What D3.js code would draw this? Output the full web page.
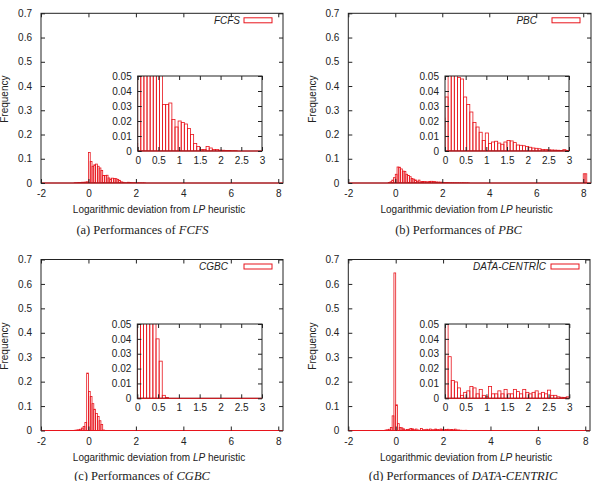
<!DOCTYPE html>
<html>
<head>
<meta charset="utf-8">
<style>
  body { margin: 0; background: #fff; }
  text { font-family: "Liberation Sans", Arial, sans-serif; font-size: 10px; fill: #222; }
  .caption { font-family: "Liberation Serif", "Times New Roman", serif; font-size: 12.5px; }
</style>
</head>
<body>
<svg id="chart" width="595" height="481"></svg>
<script src="https://cdn.jsdelivr.net/npm/d3@7/dist/d3.min.js"></script>
<script>
// histogram bins, all panels share the same bin width
const binWidth = 0.075;

// (a) FCFS
const fcfsStart = -0.6;
const fcfsFreq = [0.001, 0.001, 0.002, 0.002, 0.003, 0.003, 0.004, 0.005,
  0.126, 0.089, 0.069, 0.075, 0.078, 0.069, 0.062, 0.052, 0.031, 0.031, 0.032, 0.021,
  0.016, 0.020, 0.019, 0.018, 0.015, 0.011, 0.005, 0.003, 0.001, 0.001, 0.003, 0.002,
  0.001, 0.001, 0.0006, 0.0005, 0.0004, 0.0003, 0.0002, 0.0002];

// (b) PBC
const pbcStart = -0.3;
const pbcFreq = [0.002, 0.005, 0.012, 0.022,
  0.036, 0.066, 0.065, 0.058, 0.049, 0.048, 0.036, 0.031, 0.026, 0.019, 0.016, 0.0125,
  0.007, 0.012, 0.005, 0.006, 0.0065, 0.0053, 0.0045, 0.006, 0.007, 0.0067, 0.0056, 0.004,
  0.0038, 0.0035, 0.003, 0.0025, 0.002, 0.0018, 0.0015, 0.001, 0.001, 0.0008, 0.0007, 0.0006,
  0.0005, 0.0004, 0.0009, 0.0003, 0.0003, 0.0002];
const pbcOverflowStart = 8;
const pbcOverflow = [0.038, 0.038];

// (c) CGBC
const cgbcStart = -0.6;
const cgbcFreq = [0.001, 0.002, 0.003, 0.005, 0.010, 0.016, 0.033, 0.235,
  0.16, 0.139, 0.11, 0.087, 0.07, 0.057, 0.04, 0.025, 0.002, 0.0005];

// (d) DATA-CENTRIC
const dcStart = -0.45;
const dcFreq = [0.002, 0.003, 0.005, 0.012, 0.06, 0.645,
  0.105, 0.028, 0.012, 0.011, 0.007, 0.002, 0.004, 0.005, 0.008, 0.007,
  0.003, 0.006, 0.002, 0.001, 0.008, 0.003, 0.003, 0.005, 0.003, 0.006,
  0.003, 0.003, 0.006, 0.0045, 0.003, 0.006, 0.004, 0.003, 0.004, 0.005,
  0.003, 0.004, 0.003, 0.0055, 0.002, 0.002, 0.001, 0.0007, 0.0005, 0.001];

const xTicksMain = [-2, 0, 2, 4, 6, 8];
const yTicksMain = [0, 0.1, 0.2, 0.3, 0.4, 0.5, 0.6, 0.7];
const xTicksInset = [0, 0.5, 1, 1.5, 2, 2.5, 3];
const yTicksInset = [0, 0.01, 0.02, 0.03, 0.04, 0.05];

const barColor = "#e8141c";
const ink = "#222";
const svg = d3.select("#chart");

// where each panel sits on the page
const panels = [
  { name: "FCFS", letter: "a", start: fcfsStart, freq: fcfsFreq, xMax: 8.2,
    frame: { l: 41, r: 283, t: 13.3, b: 183 }, inset: { l: 137.7, r: 262, t: 76, b: 151 },
    legendGap: 4, captionX: 142.5, captionY: 234 },
  { name: "PBC", letter: "b", start: pbcStart, freq: pbcFreq, xMax: 8.33,
    extraStart: pbcOverflowStart, extra: pbcOverflow,
    frame: { l: 348.3, r: 591, t: 13.3, b: 183 }, inset: { l: 445, r: 569, t: 76, b: 151 },
    legendGap: 15, captionX: 458.5, captionY: 234 },
  { name: "CGBC", letter: "c", start: cgbcStart, freq: cgbcFreq, xMax: 8.2,
    frame: { l: 41, r: 283, t: 259.5, b: 430.5 }, inset: { l: 137.3, r: 262, t: 324, b: 398.3 },
    legendGap: 16, captionX: 142, captionY: 480 },
  { name: "DATA-CENTRIC", letter: "d", start: dcStart, freq: dcFreq, xMax: 8.2,
    frame: { l: 348.3, r: 590, t: 259.5, b: 430.5 }, inset: { l: 445, r: 569.3, t: 324, b: 398.3 },
    legendGap: 5, captionX: 463, captionY: 480 }
];

function bins(start, freq) {
  return freq.map((f, i) => ({ x0: start + i * binWidth, f: f })).filter(d => d.f > 0);
}

function drawBars(g, x, y, data, clipId) {
  g.append("g").attr("clip-path", `url(#${clipId})`)
    .selectAll("rect").data(data).join("rect")
    .attr("x", d => x(d.x0))
    .attr("width", d => x(d.x0 + binWidth) - x(d.x0))
    .attr("y", d => y(d.f))
    .attr("height", d => y(0) - y(d.f))
    .attr("fill", "none")
    .attr("stroke", barColor)
    .attr("stroke-width", 0.8);
}

function drawAxes(g, x, y, f, xTicks, yTicks, padX, padY) {
  const fmt = d => String(d);
  const clean = s => s.attr("font-size", null).attr("font-family", null).attr("color", ink)
    .call(a => a.select(".domain").remove());
  g.append("g").attr("transform", `translate(0,${f.b})`)
    .call(d3.axisBottom(x).tickValues(xTicks).tickFormat(fmt).tickSize(-4).tickPadding(padX)).call(clean);
  g.append("g").attr("transform", `translate(0,${f.t})`)
    .call(d3.axisTop(x).tickValues(xTicks).tickFormat("").tickSize(-4)).call(clean);
  g.append("g").attr("transform", `translate(${f.l},0)`)
    .call(d3.axisLeft(y).tickValues(yTicks).tickFormat(fmt).tickSize(-4).tickPadding(padY)).call(clean);
  g.append("g").attr("transform", `translate(${f.r},0)`)
    .call(d3.axisRight(y).tickValues(yTicks).tickFormat("").tickSize(-4)).call(clean);
}

panels.forEach((p, k) => {
  const g = svg.append("g");
  const f = p.frame, fi = p.inset;
  const x = d3.scaleLinear().domain([-2, p.xMax]).range([f.l, f.r]);
  const y = d3.scaleLinear().domain([0, 0.7]).range([f.b, f.t]);

  const defs = svg.append("defs");
  defs.append("clipPath").attr("id", "clipMain" + k).append("rect")
    .attr("x", f.l).attr("y", f.t).attr("width", f.r - f.l).attr("height", f.b - f.t);
  defs.append("clipPath").attr("id", "clipInset" + k).append("rect")
    .attr("x", fi.l).attr("y", fi.t).attr("width", fi.r - fi.l).attr("height", fi.b - fi.t);

  let data = bins(p.start, p.freq);
  if (p.extra) data = data.concat(bins(p.extraStart, p.extra));

  // main histogram
  drawBars(g, x, y, data, "clipMain" + k);
  g.append("rect").attr("x", f.l).attr("y", f.t).attr("width", f.r - f.l).attr("height", f.b - f.t)
    .attr("fill", "none").attr("stroke", ink).attr("stroke-width", 1);
  g.append("line").attr("x1", x(-2)).attr("x2", x(p.xMax)).attr("y1", y(0)).attr("y2", y(0))
    .attr("stroke", barColor).attr("stroke-width", 1);
  drawAxes(g, x, y, f, xTicksMain, yTicksMain, 7, 9);

  // zoomed inset
  const xi = d3.scaleLinear().domain([0, 3]).range([fi.l, fi.r]);
  const yi = d3.scaleLinear().domain([0, 0.05]).range([fi.b, fi.t]);
  g.append("rect").attr("x", fi.l).attr("y", fi.t).attr("width", fi.r - fi.l).attr("height", fi.b - fi.t)
    .attr("fill", "#fff");
  drawBars(g, xi, yi, data, "clipInset" + k);
  g.append("rect").attr("x", fi.l).attr("y", fi.t).attr("width", fi.r - fi.l).attr("height", fi.b - fi.t)
    .attr("fill", "none").attr("stroke", ink).attr("stroke-width", 1);
  g.append("line").attr("x1", xi(0)).attr("x2", xi(3)).attr("y1", yi(0)).attr("y2", yi(0))
    .attr("stroke", barColor).attr("stroke-width", 1);
  drawAxes(g, xi, yi, fi, xTicksInset, yTicksInset, 6, 6);

  // legend
  const ly = f.t + 7;
  g.append("rect").attr("x", f.r - 39).attr("y", ly - 2.5).attr("width", 28).attr("height", 5)
    .attr("fill", "none").attr("stroke", barColor).attr("stroke-width", 1);
  g.append("text").attr("x", f.r - 39 - p.legendGap).attr("y", ly + 3.5)
    .attr("text-anchor", "end").attr("font-style", "italic").text(p.name);

  // axis titles
  const xt = g.append("text").attr("x", (f.l + f.r) / 2 - 3).attr("y", f.b + 30)
    .attr("text-anchor", "middle");
  xt.append("tspan").text("Logarithmic deviation from ");
  xt.append("tspan").attr("font-style", "italic").text("LP");
  xt.append("tspan").text(" heuristic");

  g.append("text")
    .attr("transform", `translate(${f.l - 32.8},${(f.t + f.b) / 2 + 1}) rotate(-90)`)
    .attr("text-anchor", "middle").text("Frequency");

  // caption
  const cap = g.append("text").attr("class", "caption")
    .attr("x", p.captionX).attr("y", p.captionY).attr("text-anchor", "middle");
  cap.append("tspan").text(`(${p.letter})  Performances of `);
  cap.append("tspan").attr("font-style", "italic").text(p.name);
});
</script>
</body>
</html>
